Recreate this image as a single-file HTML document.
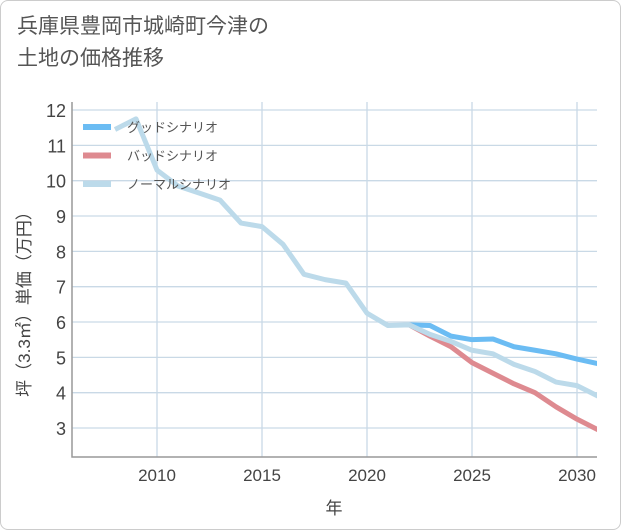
<!DOCTYPE html>
<html><head><meta charset="utf-8"><style>
body{margin:0;background:#fff;font-family:"Liberation Sans","Noto Sans CJK JP",sans-serif;}
#wrap{position:relative;width:619px;height:528px;border:1px solid #ccc;border-radius:8px;overflow:hidden}
h1{position:absolute;left:16px;top:10px;margin:0;font-weight:normal;font-size:21px;line-height:32px;color:#555}
</style></head><body>
<div id="wrap">
<h1>兵庫県豊岡市城崎町今津の<br>土地の価格推移</h1>
<svg id="c" width="621" height="530" style="position:absolute;left:-1px;top:-1px"></svg>
</div>
<script>
const years=[2008,2009,2010,2011,2012,2013,2014,2015,2016,2017,2018,2019,2020,2021,2022,2023,2024,2025,2026,2027,2028,2029,2030,2031];
const normal=[11.45,11.75,10.3,9.85,9.65,9.45,8.8,8.7,8.2,7.35,7.2,7.1,6.25,5.9,5.92,5.65,5.45,5.2,5.1,4.8,4.6,4.3,4.2,3.9];
const fYears=[2022,2023,2024,2025,2026,2027,2028,2029,2030,2031];
const good=[5.92,5.9,5.6,5.5,5.52,5.3,5.2,5.1,4.95,4.82];
const bad=[5.92,5.6,5.3,4.85,4.55,4.25,4.0,3.6,3.25,2.95];
const xTicks=[2010,2015,2020,2025,2030];
const yTicks=[3,4,5,6,7,8,9,10,11,12];
const L=72,R=597,T=102,B=457;
const x=v=>157+(v-2010)*21;
const y=v=>428-(v-3)*35.33;
const s=document.getElementById('c');const NS='http://www.w3.org/2000/svg';
function mk(t,a,p){const e=document.createElementNS(NS,t);for(const k in a)e.setAttribute(k,a[k]);(p||s).appendChild(e);return e;}
yTicks.forEach(v=>{const l=mk('line',{x1:L,x2:R,y1:y(v),y2:y(v),stroke:'#c9d9e6','stroke-width':1.3});


const t=mk('text',{x:66,y:y(v)+7,'text-anchor':'end','font-size':18,fill:'#444'});t.textContent=v;

});
xTicks.forEach(v=>{const l=mk('line',{x1:x(v),x2:x(v),y1:T,y2:B,stroke:'#c9d9e6','stroke-width':1.3});


const t=mk('text',{x:x(v),y:481,'text-anchor':'middle','font-size':17,fill:'#444'});t.textContent=v;

});
const ax=mk('path',{d:`M${L} ${T}V${B}H${R}`,fill:'none',stroke:'#999','stroke-width':1.5});


function line(xs,vs,col,name){const p=mk('polyline',{points:xs.map((a,i)=>x(a)+','+y(vs[i])).join(' '),fill:'none',stroke:col,'stroke-width':5,'stroke-linejoin':'round'});

}
const cp=mk('clipPath',{id:'cp'});mk('rect',{x:L,y:T,width:R-L,height:B-T},cp);
const g=mk('g',{'clip-path':'url(#cp)'});
function line2(xs,vs,col,name){const p=mk('polyline',{points:xs.map((a,i)=>x(a)+','+y(vs[i])).join(' '),fill:'none',stroke:col,'stroke-width':5,'stroke-linejoin':'round'},g);

}
line2(fYears,good,'#6bbcf3','good-scenario-line');
line2(fYears,bad,'#de8a90','bad-scenario-line');
line2(years,normal,'#bcdaea','normal-scenario-line');
[['グッドシナリオ','#6bbcf3'],['バッドシナリオ','#de8a90'],['ノーマルシナリオ','#bcdaea']].forEach((e,i)=>{const yy=127+i*28.5;
const r=mk('line',{x1:83,x2:111,y1:yy,y2:yy,stroke:e[1],'stroke-width':6});


const t=mk('text',{x:127,y:yy+5,'font-size':13,fill:'#555'});t.textContent=e[0];

});
const yt=mk('text',{transform:'translate(30,300) rotate(-90)','text-anchor':'middle','font-size':17,fill:'#444'});yt.textContent='坪（3.3㎡）単価（万円）';


const xt=mk('text',{x:334,y:514,'text-anchor':'middle','font-size':17,fill:'#444'});xt.textContent='年';


</script>
</body></html>
